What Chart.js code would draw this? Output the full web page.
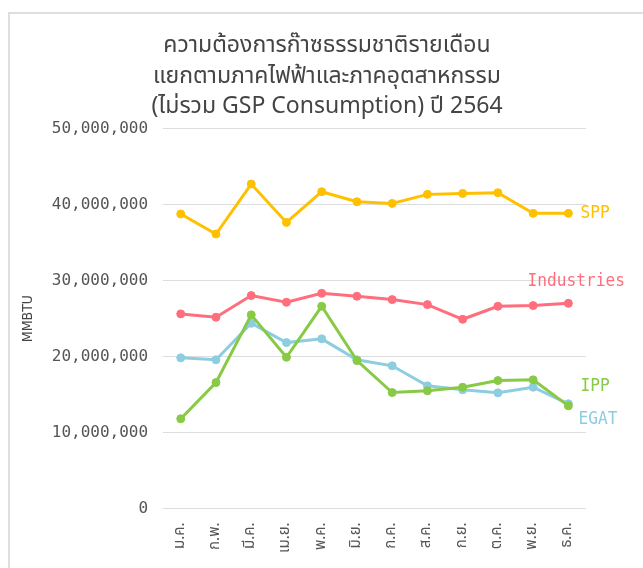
<!DOCTYPE html>
<html lang="th">
<head>
  <meta charset="UTF-8">
  <title>ความต้องการก๊าซธรรมชาติรายเดือน 2564</title>
  <script src="https://cdn.jsdelivr.net/npm/chart.js"></script>
  <style>
    html, body {
      margin: 0;
      padding: 0;
      background: #fff;
      overflow: hidden;
    }
    .card {
      position: absolute;
      left: 8px;
      top: 12px;
      width: 700px;
      height: 600px;
      border-top: 2px solid #dedede;
      border-left: 2px solid #dedede;
    }
    .chart-box {
      position: absolute;
      left: 12px;
      top: 14px;
      width: 631px;
      height: 554px;
    }
  </style>
</head>
<body>

<div class="card"></div>
<div class="chart-box">
  <canvas id="gasChart"></canvas>
</div>

<script>
  // Months (Thai abbreviations)
  const months = ['ม.ค.', 'ก.พ.', 'มี.ค.', 'เม.ย.', 'พ.ค.', 'มิ.ย.', 'ก.ค.', 'ส.ค.', 'ก.ย.', 'ต.ค.', 'พ.ย.', 'ธ.ค.'];

  // Series values in MMBTU
  const sppValues = [38780000, 36140000, 42720000, 37670000, 41710000, 40390000, 40170000, 41360000, 41490000, 41580000, 38860000, 38860000];
  const industriesValues = [25620000, 25180000, 28030000, 27150000, 28330000, 27940000, 27500000, 26840000, 24910000, 26620000, 26710000, 27010000];
  const egatValues = [19830000, 19570000, 24380000, 21840000, 22330000, 19570000, 18780000, 16140000, 15620000, 15220000, 15960000, 13780000];
  const ippValues = [11800000, 16580000, 25490000, 19910000, 26620000, 19470000, 15260000, 15490000, 15960000, 16840000, 16930000, 13510000];

  const seriesNames = ['SPP', 'Industries', 'IPP', 'EGAT'];
  const titleLines = ['ความต้องการก๊าซธรรมชาติรายเดือน', 'แยกตามภาคไฟฟ้าและภาคอุตสาหกรรม', '(ไม่รวม GSP Consumption) ปี 2564'];
  const yTicks = [0, 10000000, 20000000, 30000000, 40000000, 50000000];

  const thaiFont = "'Noto Sans Thai', 'Noto Sans', 'DejaVu Sans', sans-serif";
  const monoFont = "'DejaVu Sans Mono', 'Liberation Mono', monospace";

  // Draws the series name next to the last point of each line
  const endLabels = {
    id: 'endLabels',
    afterDatasetsDraw(chart) {
      const ctx = chart.ctx;
      chart.data.datasets.forEach((ds, i) => {
        const meta = chart.getDatasetMeta(i);
        const last = meta.data[meta.data.length - 1];
        if (!last) return;
        ctx.save();
        ctx.font = '18px ' + monoFont;
        ctx.fillStyle = ds.borderColor;
        ctx.textBaseline = 'middle';
        ctx.textAlign = 'left';
        ctx.translate(last.x + ds.labelDx, last.y + ds.labelDy);
        ctx.scale(0.9, 1);
        ctx.fillText(ds.label, 0, 0);
        ctx.restore();
      });
    }
  };

  function makeSet(label, data, color, dx, dy) {
    return {
      label: label,
      data: data,
      borderColor: color,
      backgroundColor: color,
      borderWidth: 3,
      pointRadius: 4,
      pointBorderWidth: 1,
      pointHoverRadius: 5,
      tension: 0,
      fill: false,
      labelDx: dx,
      labelDy: dy
    };
  }

  const ctx = document.getElementById('gasChart').getContext('2d');
  new Chart(ctx, {
    type: 'line',
    data: {
      labels: months,
      datasets: [
        makeSet(seriesNames[0], sppValues, '#ffc000', 12, 0),
        makeSet(seriesNames[1], industriesValues, '#ff6e7d', -41, -22),
        makeSet(seriesNames[2], ippValues, '#88c946', 12, -20),
        makeSet(seriesNames[3], egatValues, '#8ccde0', 10, 16)
      ]
    },
    options: {
      responsive: true,
      maintainAspectRatio: false,
      animation: false,
      layout: {
        padding: { left: 8, right: 9, top: 0, bottom: 9 }
      },
      plugins: {
        legend: { display: false },
        tooltip: { enabled: false },
        title: {
          display: true,
          text: titleLines,
          color: '#444',
          font: { family: thaiFont, size: 23, weight: 'normal', lineHeight: 1.33 },
          padding: { top: 18, bottom: 5 }
        }
      },
      scales: {
        x: {
          offset: true,
          grid: { display: false },
          border: { display: false },
          ticks: {
            color: '#555',
            font: { family: thaiFont, size: 15 },
            minRotation: 90,
            maxRotation: 90,
            padding: 6
          }
        },
        y: {
          min: 0,
          max: 50000000,
          afterBuildTicks(scale) {
            scale.ticks = yTicks.map(v => ({ value: v }));
          },
          grid: { color: '#dddddd', lineWidth: 1, drawTicks: false },
          border: { display: false },
          ticks: {
            color: '#555',
            font: { family: monoFont, size: 16 },
            padding: 15,
            callback: v => v.toLocaleString('en-US')
          },
          title: {
            display: true,
            text: 'MMBTU',
            color: '#444',
            font: { family: "'DejaVu Sans Condensed', 'DejaVu Sans', sans-serif", size: 14 },
            padding: { top: 0, bottom: 0 }
          }
        },
        // empty right-hand axis that only reserves room for the end labels
        yRight: {
          position: 'right',
          min: 0,
          max: 50000000,
          grid: { display: false, drawTicks: false },
          border: { display: false },
          ticks: { display: false },
          afterFit(scale) {
            scale.width = 48;
          }
        }
      }
    },
    plugins: [endLabels]
  });
</script>

</body>
</html>
